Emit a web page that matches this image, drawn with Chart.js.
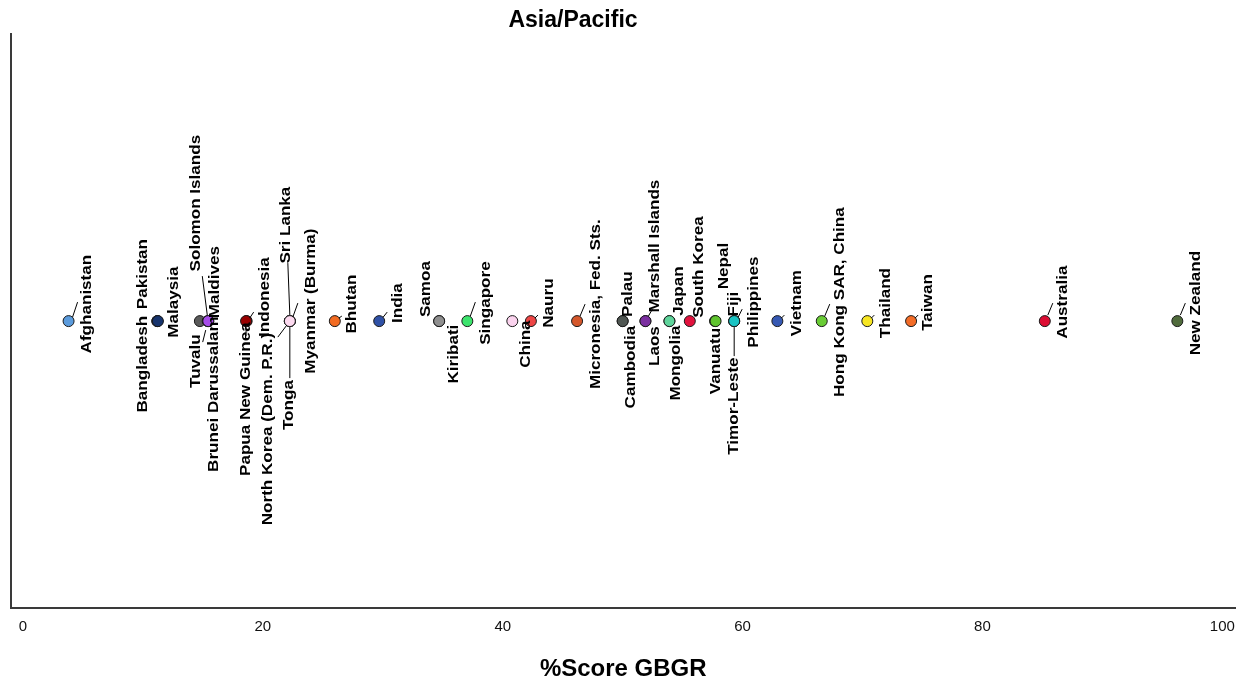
<!DOCTYPE html>
<html>
<head>
<meta charset="utf-8">
<title>Asia/Pacific</title>
<script src="https://cdn.jsdelivr.net/npm/chart.js@4/dist/chart.umd.min.js"></script>
<style>
  html, body { margin: 0; padding: 0; background: #fff; }
  #wrap { width: 1242px; height: 685px; position: relative; }
</style>
</head>
<body>
<div id="wrap"><canvas id="chart"></canvas></div>
<script>
// data
const chartTitle = 'Asia/Pacific';
const axisTitle = '%Score GBGR';
const xTicks = [0, 20, 40, 60, 80, 100];

const countries = [
  'Afghanistan', 'Bangladesh', 'Pakistan', 'Malaysia', 'Brunei Darussalam',
  'Tuvalu', 'Solomon Islands', 'Maldives', 'Indonesia', 'Papua New Guinea',
  'North Korea (Dem. P.R.)', 'Tonga', 'Sri Lanka', 'Myanmar (Burma)', 'Bhutan',
  'India', 'Kiribati', 'Samoa', 'Singapore', 'China',
  'Nauru', 'Micronesia, Fed. Sts.', 'Cambodia', 'Palau', 'Marshall Islands',
  'Laos', 'Mongolia', 'Japan', 'South Korea', 'Vanuatu',
  'Nepal', 'Timor-Leste', 'Philippines', 'Fiji', 'Vietnam',
  'Hong Kong SAR, China', 'Thailand', 'Taiwan', 'Australia', 'New Zealand',
];
const scores = [
  3.8, 11.2, 11.2, 11.25, 14.75,
  15.4, 15.45, 15.45, 18.65, 18.6,
  22.25, 22.25, 22.25, 22.25, 26.0,
  29.7, 34.7, 34.7, 37.05, 40.8,
  42.35, 46.2, 50.0, 50.0, 51.9,
  51.9, 53.9, 53.9, 55.6, 57.7,
  57.75, 59.3, 59.3, 59.3, 62.9,
  66.6, 70.4, 74.05, 85.2, 96.25,
];
const dotColors = [
  '#5b9bdc', '#183a78', '#183a78', '#17346d', '#5a5a5a',
  '#4d4d4d', '#a54be8', '#a54be8', '#990000', '#990000',
  '#fcd9ef', '#fcd9ef', '#fcd9ef', '#fcd9ef', '#f26b22',
  '#2f51a6', '#8f8f8f', '#8f8f8f', '#3de46d', '#fbd3ee',
  '#ee4545', '#d4572b', '#4f5652', '#4f5652', '#7b2fa0',
  '#7b2fa0', '#5fd49b', '#5fd49b', '#e2123e', '#5fc42e',
  '#5fc42e', '#19c3c3', '#19c3c3', '#19c3c3', '#3659b3',
  '#69cc35', '#f7e622', '#f36c27', '#dc0c32', '#506b3c',
];

// label placement: text centre offset from the dot, optional leader line
const labelLayout = {
  'Afghanistan': [19, -17, [4, -4, 9, -19]],
  'Bangladesh': [-14, 43],
  'Pakistan': [-14, -47],
  'Malaysia': [16, -19],
  'Brunei Darussalam': [14, 73],
  'Tuvalu': [-12, 40, [-2, 9, -5, 21]],
  'Solomon Islands': [-12, -118, [-1, -6, -6, -45]],
  'Maldives': [7, -39],
  'Indonesia': [18, -24, [3, -3, 7, -9]],
  'Papua New Guinea': [0, 78, [0, 6, 0, 15]],
  'North Korea (Dem. P.R.)': [-22, 108, [-3, 4, -12, 16]],
  'Tonga': [-1, 84, [0, 6, 0, 57]],
  'Sri Lanka': [-4, -96, [0, -6, -2, -58]],
  'Myanmar (Burma)': [21, -20, [3, -4, 8, -18]],
  'Bhutan': [17, -17, [4, -3, 7, -5]],
  'India': [18.5, -18, [4, -4, 8, -9]],
  'Kiribati': [15, 33],
  'Samoa': [-13, -32],
  'Singapore': [18.5, -18, [3, -5, 8, -19]],
  'China': [14, 23],
  'Nauru': [18, -18, [4, -3, 7, -6]],
  'Micronesia, Fed. Sts.': [19, -17, [3, -5, 8, -17]],
  'Cambodia': [8, 46],
  'Palau': [5, -27],
  'Marshall Islands': [10, -75, [3, -5, 7, -12]],
  'Laos': [10, 25],
  'Mongolia': [7, 42],
  'Japan': [10, -30],
  'South Korea': [9, -54],
  'Vanuatu': [1, 40],
  'Nepal': [9, -55],
  'Timor-Leste': [0, 85, [0, 6, 0, 35]],
  'Philippines': [20, -19, [4, -4, 8, -12]],
  'Fiji': [0, -17],
  'Vietnam': [20, -18, [4, -3, 7, -6]],
  'Hong Kong SAR, China': [18.5, -19, [3, -5, 8, -17]],
  'Thailand': [19, -18, [4, -3, 7, -6]],
  'Taiwan': [17.5, -18.6, [4, -3, 7, -6]],
  'Australia': [18, -19, [3, -6, 8, -18]],
  'New Zealand': [19, -18, [3, -6, 8, -18]],
};

const labelFont = 'bold 14px "Liberation Sans", Arial, sans-serif';
const labelStretch = 1.22;

const pointLabels = {
  id: 'pointLabels',
  afterDatasetsDraw(chart) {
    const ctx = chart.ctx;
    const meta = chart.getDatasetMeta(0);
    ctx.save();
    ctx.strokeStyle = '#000';
    ctx.lineWidth = 1;
    ctx.fillStyle = '#000';
    ctx.font = labelFont;
    ctx.textAlign = 'center';
    ctx.textBaseline = 'middle';
    meta.data.forEach((pt, i) => {
      const lay = labelLayout[countries[i]];
      if (!lay) return;
      const [dx, dy, leader] = lay;
      if (leader) {
        ctx.beginPath();
        ctx.moveTo(pt.x + leader[0], pt.y + leader[1]);
        ctx.lineTo(pt.x + leader[2], pt.y + leader[3]);
        ctx.stroke();
      }
      ctx.save();
      ctx.translate(pt.x + dx, pt.y + dy);
      ctx.rotate(-Math.PI / 2);
      ctx.scale(labelStretch, 1);
      ctx.fillText(countries[i], 0, 0);
      ctx.restore();
    });
    // chart title, sits left of centre in the original
    ctx.font = 'bold 23px "Liberation Sans", Arial, sans-serif';
    ctx.textBaseline = 'alphabetic';
    ctx.fillText(chartTitle, 573, 27);
    ctx.restore();
  }
};

new Chart(document.getElementById('chart'), {
  type: 'scatter',
  data: {
    datasets: [{
      data: scores.map(v => ({x: v, y: 0})),
      pointRadius: 5.5,
      pointBackgroundColor: dotColors,
      pointBorderColor: '#1a1a1a',
      pointBorderWidth: 1,
    }],
  },
  options: {
    responsive: true,
    maintainAspectRatio: false,
    animation: false,
    events: [],
    layout: {
      padding: {left: 11, right: 6, top: 34, bottom: 0},
    },
    plugins: {
      legend: {display: false},
      title: {display: false},
      tooltip: {enabled: false},
    },
    scales: {
      x: {
        type: 'linear',
        min: -1,
        max: 101.1,
        afterBuildTicks: (scale) => {
          scale.ticks = xTicks.map(v => ({value: v}));
        },
        // the "100" label should not push the plot edge inwards
        afterFit: (scale) => {
          scale.paddingLeft = 0;
          scale.paddingRight = 0;
        },
        grid: {display: false, drawTicks: false},
        border: {display: true, color: '#3a3a3a', width: 2},
        ticks: {
          color: '#111',
          padding: 10,
          font: {family: '"Liberation Sans", Arial, sans-serif', size: 15},
        },
        title: {
          display: true,
          text: axisTitle,
          color: '#000',
          padding: {top: 9, bottom: 1},
          font: {family: '"Liberation Sans", Arial, sans-serif', size: 24, weight: 'bold'},
        },
      },
      y: {
        type: 'linear',
        min: -1,
        max: 1,
        grid: {display: false, drawTicks: false},
        border: {display: true, color: '#3a3a3a', width: 2},
        ticks: {display: false},
      },
    },
  },
  plugins: [pointLabels],
});
</script>
</body>
</html>
